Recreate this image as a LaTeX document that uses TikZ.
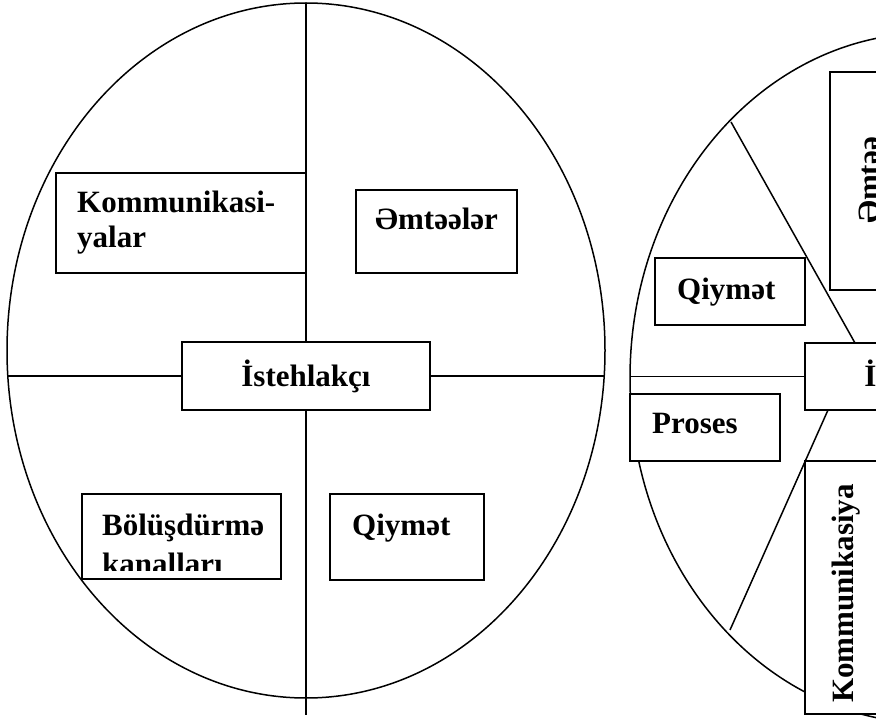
\documentclass[tikz,border=0pt]{standalone}
\usepackage{fontspec}
\setmainfont{Liberation Serif}
\tikzset{
  lw/.style={line width=1.5pt},
  boxn/.style={draw, fill=white, line width=1.5pt, rectangle, inner sep=0pt, minimum width=#1},
  lbl/.style={font=\fontsize{31pt}{37pt}\selectfont\bfseries, inner sep=0pt},
}
\begin{document}
\begin{tikzpicture}[x=1pt,y=-1pt]
\useasboundingbox (0,0) rectangle (876,722);
\clip (0,0) rectangle (876,722);
% ellipses
\draw[lw] (306,350.5) ellipse [x radius=299pt, y radius=347.5pt];
\draw[lw] (929,378) ellipse [x radius=299pt, y radius=345pt];
% left boxes
\node[boxn=250pt, minimum height=100pt] (kbox) at (181,223) {};
\node[boxn=161pt, minimum height=83pt] (ebox) at (436.5,231.5) {};
\node[boxn=248pt, minimum height=68pt] (ibox) at (306,376) {};
\node[boxn=199pt, minimum height=85pt] (bbox) at (181.5,536.5) {};
\node[boxn=154pt, minimum height=86pt] (qbox) at (407,537) {};
% left connectors
\coordinate (vt) at (306,3);
\coordinate (vb) at (306,715);
\coordinate (hl) at (7,376);
\coordinate (hr) at (605,376);
\draw[lw] (vt) -- (ibox.north);
\draw[lw] (ibox.south) -- (vb);
\draw[lw] (hl) -- (ibox.west);
\draw[lw] (ibox.east) -- (hr);
\node[boxn=250pt, minimum height=100pt, fill=none] at (181,223) {};
% right connectors
\coordinate (rl) at (630,376.5);
\coordinate (u1) at (731,122);
\coordinate (u2) at (855,343);
\coordinate (d1) at (828,410);
\coordinate (d2) at (730,630);
\draw[lw] (u1) -- (u2);
\draw[lw] (d1) -- (d2);
% right boxes
\node[boxn=248pt, minimum height=67pt] (ibox2) at (929,376.5) {};
\draw[lw] (rl) -- (ibox2.west);
\node[boxn=150pt, minimum height=67pt] (qbox2) at (730,291.5) {};
\node[boxn=150pt, minimum height=67pt] (pbox) at (705,427.5) {};
\node[boxn=170pt, minimum height=218pt] (ebox2) at (915,181) {};
\node[boxn=155pt, minimum height=253pt] (kbox2) at (882.5,587.5) {};
% texts left
\node[lbl, anchor=base west] (t1) at (77,213) {Kommunikasi-};
\node[lbl, anchor=base west] (t2) at (77,248) {yalar};
\node[lbl, anchor=base west] (t3) at (375,230) {Əmtəələr};
\node[lbl] (t4) at (ibox.center) {İstehlakçı};
\node[lbl, anchor=base west] (t5) at (102,535) {Bölüşdürmə};
\begin{scope}
\clip (90,540) rectangle (280,570);
\node[lbl, anchor=base west] (t6) at (102,574) {kanalları};
\end{scope}
\node[lbl, anchor=base west] (t7) at (352,535) {Qiymət};
% texts right
\node[lbl] (t8) at (ibox2.center) {İstehlakçı};
\node[lbl, anchor=base west] (t9) at (677,300) {Qiymət};
\node[lbl, anchor=base west] (t10) at (652,433) {Proses};
\node[lbl, anchor=base west, rotate=90] (t11) at (853,703) {Kommunikasiya};
\node[lbl, anchor=base west, rotate=90] (t12) at (879,224) {Əmtəə};
\end{tikzpicture}
\end{document}
